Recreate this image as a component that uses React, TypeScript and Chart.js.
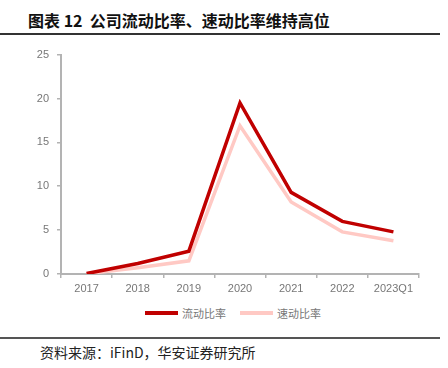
import React, { useEffect, useRef } from "react";
import { Chart, registerables } from "chart.js";

Chart.register(...registerables);

const categories = ["2017", "2018", "2019", "2020", "2021", "2022", "2023Q1"];
const currentRatio = [0.05, 1.2, 2.6, 19.5, 9.3, 6.0, 4.8];
const quickRatio = [0.03, 0.7, 1.5, 16.9, 8.2, 4.8, 3.8];
const seriesNames = ["流动比率", "速动比率"];
const yTicks = [0, 5, 10, 15, 20, 25];

const RED = "#C00000";
const PINK = "#FFC9C4";
const FONT = "'Liberation Sans', Arial, 'Noto Sans CJK SC', sans-serif";

export default function App() {
  const ref = useRef<HTMLCanvasElement>(null);
  useEffect(() => {
    if (!ref.current) return;
    const chart = new Chart(ref.current, {
      type: "line",
      data: {
        labels: categories,
        datasets: [
          {
            label: seriesNames[0],
            data: currentRatio,
            borderColor: RED,
            backgroundColor: RED,
            borderWidth: 3.5,
            pointRadius: 0,
            tension: 0,
          },
          {
            label: seriesNames[1],
            data: quickRatio,
            borderColor: PINK,
            backgroundColor: PINK,
            borderWidth: 3.5,
            pointRadius: 0,
            tension: 0,
          },
        ],
      },
      options: {
        animation: false,
        responsive: false,
        maintainAspectRatio: false,
        layout: { padding: { top: 5, right: 29, left: 0, bottom: 0 } },
        plugins: { legend: { display: false }, tooltip: { enabled: false } },
        scales: {
          x: {
            type: "category",
            offset: true,
            grid: {
              offset: true,
              drawOnChartArea: false,
              drawTicks: true,
              tickLength: 4,
              color: "#b3b3b3",
              lineWidth: 1.5,
            },
            border: { color: "#b3b3b3", width: 2 },
            ticks: {
              color: "#777777",
              font: { family: FONT, size: 11 },
              padding: 4,
              maxRotation: 0,
              autoSkip: false,
            },
            afterFit: (s: any) => {
              s.height = 21;
            },
          },
          y: {
            min: 0,
            max: 25,
            afterBuildTicks: (s: any) => {
              s.ticks = yTicks.map((v) => ({ value: v }));
            },
            grid: {
              drawOnChartArea: false,
              drawTicks: true,
              tickLength: 4,
              color: "#b3b3b3",
              lineWidth: 1.5,
            },
            border: { color: "#b3b3b3", width: 2 },
            ticks: {
              color: "#777777",
              font: { family: FONT, size: 11 },
              padding: 8,
            },
            afterFit: (s: any) => {
              s.width = 61;
            },
          },
        },
      },
    });
    return () => chart.destroy();
  }, []);

  return (
    <div
      style={{
        position: "absolute",
        left: 0,
        top: 0,
        width: 448,
        height: 368,
        background: "#fff",
        fontFamily: FONT,
        overflow: "hidden",
      }}
    >
      <div
        style={{
          position: "absolute",
          left: 28,
          top: 10,
          fontSize: 16,
          fontWeight: "bold",
          color: "#111",
          whiteSpace: "nowrap",
          lineHeight: "20px",
          fontFamily: "'Noto Sans CJK SC', sans-serif",
        }}
      >
        图表 12&nbsp; 公司流动比率、速动比率维持高位
      </div>
      <div
        style={{
          position: "absolute",
          left: 0,
          top: 33,
          width: 440,
          height: 1.5,
          background: "#333",
        }}
      />
      <canvas
        ref={ref}
        width={448}
        height={255}
        style={{ position: "absolute", left: 0, top: 40, width: 448, height: 255 }}
      />
      <div style={{ position: "absolute", left: 145, top: 311, width: 33, height: 4, background: RED }} />
      <div
        style={{
          position: "absolute",
          left: 182,
          top: 305,
          fontSize: 11,
          color: "#777",
          lineHeight: "16px",
          whiteSpace: "nowrap",
          fontFamily: "'Noto Sans CJK SC', sans-serif",
        }}
      >
        {seriesNames[0]}
      </div>
      <div style={{ position: "absolute", left: 240, top: 311, width: 33, height: 4, background: PINK }} />
      <div
        style={{
          position: "absolute",
          left: 277,
          top: 305,
          fontSize: 11,
          color: "#777",
          lineHeight: "16px",
          whiteSpace: "nowrap",
          fontFamily: "'Noto Sans CJK SC', sans-serif",
        }}
      >
        {seriesNames[1]}
      </div>
      <div
        style={{
          position: "absolute",
          left: 0,
          top: 337,
          width: 440,
          height: 1.5,
          background: "#555",
        }}
      />
      <div
        style={{
          position: "absolute",
          left: 40,
          top: 343,
          fontSize: 14,
          color: "#222",
          lineHeight: "18px",
          whiteSpace: "nowrap",
          fontFamily: "'Noto Sans CJK SC', sans-serif",
        }}
      >
        资料来源：iFinD，华安证券研究所
      </div>
    </div>
  );
}
